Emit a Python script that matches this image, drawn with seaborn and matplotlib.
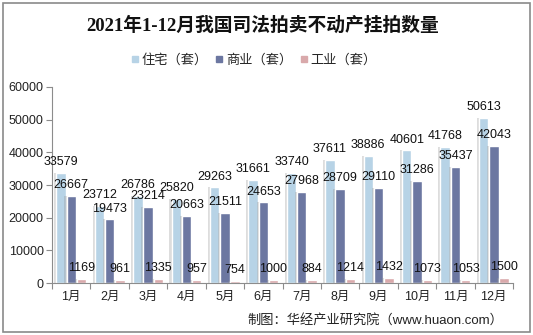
import matplotlib
matplotlib.use("Agg")
import matplotlib.pyplot as plt
import matplotlib.patheffects as pe
from matplotlib.lines import Line2D
from matplotlib.patches import Rectangle
import seaborn as sns
import pandas as pd

months = ["1月", "2月", "3月", "4月", "5月", "6月", "7月", "8月", "9月", "10月", "11月", "12月"]
residential = [33579, 23712, 26786, 25820, 29263, 31661, 33740, 37611, 38886, 40601, 41768, 50613]
commercial = [26667, 19473, 23214, 20663, 21511, 24653, 27968, 28709, 29110, 31286, 35437, 42043]
industrial = [1169, 961, 1335, 957, 754, 1000, 884, 1214, 1432, 1073, 1053, 1500]
series_names = ["住宅（套）", "商业（套）", "工业（套）"]
colors = ["#B7D3E6", "#6C77A1", "#D9A9AB"]
title = "2021年1-12月我国司法拍卖不动产挂拍数量"
source = "制图：华经产业研究院（www.huaon.com）"

sns.set_style("white")
plt.rcParams["font.family"] = ["Liberation Sans", "Noto Sans CJK SC", "DejaVu Sans"]

rows = []
for vals, name in zip([residential, commercial, industrial], series_names):
    for m, v in zip(months, vals):
        rows.append({"月份": m, "类型": name, "数量": v})
df = pd.DataFrame(rows)

fig = plt.figure(figsize=(5.33, 3.35), dpi=100)
ax = fig.add_axes([0.0976, 0.1552, 0.8649, 0.5851])

sns.barplot(data=df, x="月份", y="数量", hue="类型", order=months, hue_order=series_names,
            palette=colors, width=0.8, gap=0.08, ax=ax, legend=False, saturation=1)

shadow = [pe.SimplePatchShadow(offset=(-1.5, 0), shadow_rgbFace="#909090", alpha=0.3), pe.Normal()]
for c in ax.containers:
    for p in c:
        p.set_path_effects(shadow)
    ax.bar_label(c, labels=[f"{int(v)}" for v in c.datavalues], padding=3.5, fontsize=9, color="#111111")

ax.set_ylim(0, 60000)
ax.set_yticks(range(0, 60001, 10000))
ax.set_xlim(-0.5, 11.5)
ax.set_xlabel("")
ax.set_ylabel("")
for s in ["top", "right"]:
    ax.spines[s].set_visible(False)
for s in ["left", "bottom"]:
    ax.spines[s].set_color("#8c8c8c")
    ax.spines[s].set_linewidth(0.8)
ax.tick_params(axis="y", labelsize=9, colors="#8c8c8c", labelcolor="#222222", length=4, width=0.8, pad=2, left=True)
ax.tick_params(axis="x", which="major", labelsize=9, labelcolor="#222222", length=0, pad=6)
ax.set_xticks([i - 0.5 for i in range(13)], minor=True)
ax.tick_params(axis="x", which="minor", length=4, width=0.8, color="#8c8c8c", bottom=True)

fig.text(0.492, 0.925, title, ha="center", va="center", fontsize=13.5, fontweight="bold",
         family=["Liberation Serif", "Noto Sans CJK SC"], color="#111111")

handles = [Line2D([0], [0], marker="s", linestyle="none", markersize=4, markerfacecolor=c,
                  markeredgecolor=c) for c in colors]
fig.legend(handles, series_names, loc="center", bbox_to_anchor=(0.476, 0.821), ncol=3, frameon=False,
           fontsize=9.5, handlelength=0.6, handletextpad=0.2, columnspacing=0.6)

fig.text(0.945, 0.045, source, ha="right", va="center", fontsize=9.5, color="#222222")

fig.patches.append(Rectangle((3 / 533, 3 / 335), 527 / 533, 329 / 335, transform=fig.transFigure,
                             fill=False, edgecolor="#8a8a8a", linewidth=1.2))

fig.savefig("out.png", dpi=100)
